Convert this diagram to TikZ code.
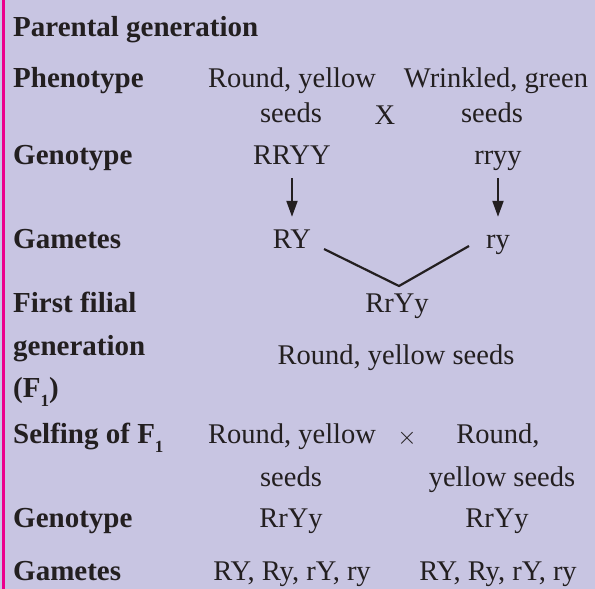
\documentclass[tikz,border=0pt]{standalone}
\usepackage{fontspec}
\setmainfont{Liberation Serif}
\usetikzlibrary{arrows.meta}
\definecolor{bg}{RGB}{200,197,226}
\definecolor{edgecol}{RGB}{236,0,140}
\definecolor{ink}{RGB}{35,31,32}
\newcommand\subone{\raisebox{-9pt}{\fontsize{17}{17}\selectfont 1}}
\begin{document}
\begin{tikzpicture}[x=1pt,y=-1pt,
  every node/.style={inner sep=0pt, text=ink, font=\fontsize{28.5}{34}\selectfont},
  lbl/.style={anchor=base west, font=\fontsize{29}{34}\selectfont\bfseries},
  txt/.style={anchor=base, text height=20pt, text depth=6pt},
  arr/.style={-{Triangle[length=16pt,width=11pt]}, line width=2pt, draw=ink},
  link/.style={line width=2.2pt, draw=ink, line join=miter}]
\fill[bg] (0,0) rectangle (595,589);
\useasboundingbox (0,0) rectangle (595,589);
\draw[edgecol, line width=3pt] (3,0) -- (3,589);

% left labels
\node[lbl] (parental) at (13,36) {Parental generation};
\node[lbl] (phen) at (13,87) {Phenotype};
\node[lbl] (geno) at (13,164) {Genotype};
\node[lbl] (gam) at (13,248) {Gametes};
\node[lbl] (ff1) at (13,312) {First filial};
\node[lbl] (ff2) at (13,355) {generation};
\node[lbl] (ff3) at (13,397) {(F\subone)};
\node[lbl] (self) at (13,443) {Selfing of F\subone};
\node[lbl] (geno2) at (13,527) {Genotype};
\node[lbl] (gam2) at (13,580) {Gametes};

% parental cross
\node[txt] (p1a) at (292,87) {Round, yellow};
\node[txt] (p1b) at (291,122) {seeds};
\node[txt] (p2a) at (496,87) {Wrinkled, green};
\node[txt] (p2b) at (492,122) {seeds};
\node[anchor=center] (cross1) at (385,115) {X};
\node[txt] (RRYY) at (292,164) {RRYY};
\node[txt] (rryy) at (498,164) {rryy};
\node[txt] (RY) at (292,248) {RY};
\node[txt] (ry) at (498,248) {ry};
\draw[arr, shorten <=8pt, shorten >=11pt] (RRYY.south) -- (RY.north);
\draw[arr, shorten <=8pt, shorten >=11pt] (rryy.south) -- (ry.north);

% F1
\coordinate (vL) at (324,249);
\coordinate (vB) at (399,286);
\coordinate (vR) at (469,246);
\draw[link] (vL) -- (vB) -- (vR);
\node[txt] (RrYy) at (397,312) {RrYy};
\node[txt] (f1ph) at (396,364) {Round, yellow seeds};

% selfing
\node[txt] (s1a) at (292,443) {Round, yellow};
\node[anchor=center] (cross2) at (407,438) {$\times$};
\node[txt] (s2a) at (498,443) {Round,};
\node[txt] (s1b) at (291,486) {seeds};
\node[txt] (s2b) at (502,486) {yellow seeds};
\node[txt] (g1) at (291,527) {RrYy};
\node[txt] (g2) at (497,527) {RrYy};
\node[txt] (gm1) at (292,580) {RY, Ry, rY, ry};
\node[txt] (gm2) at (498,580) {RY, Ry, rY, ry};
\end{tikzpicture}
\end{document}
